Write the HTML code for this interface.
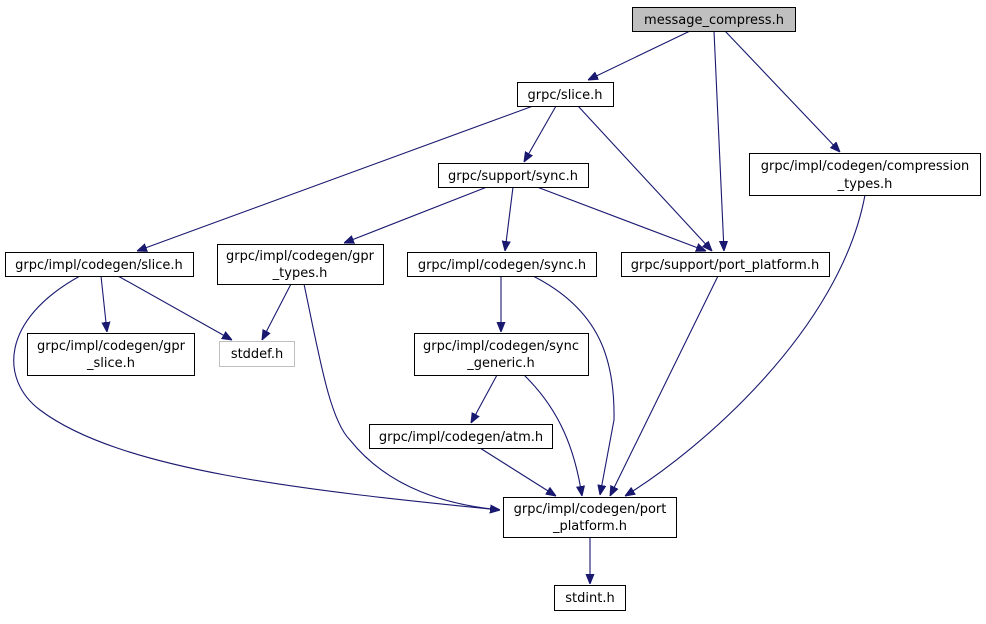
<!DOCTYPE html>
<html><head><meta charset="utf-8"><style>
html,body{margin:0;padding:0;background:#fff}
text{font-family:"DejaVu Sans","Liberation Sans",sans-serif;font-size:13px;fill:#000;text-anchor:middle}
.n{fill:#fff;stroke:#000;stroke-width:1}
.e{fill:none;stroke:#191970;stroke-width:1.1}
</style></head><body>
<svg width="986" height="619" viewBox="0 0 986 619" xmlns="http://www.w3.org/2000/svg">
<defs><marker id="a" viewBox="0 0 10 10" refX="10" refY="5" markerWidth="10" markerHeight="10" markerUnits="userSpaceOnUse" orient="auto"><path d="M0,1 L10,5 L0,9 z" fill="#191970" stroke="#191970"/></marker></defs>
<g class="e" marker-end="url(#a)">
<path d="M690,31 L588,80"/>
<path d="M714,31 L724,251"/>
<path d="M725,31 L840,152"/>
<path d="M533,106 L137,251"/>
<path d="M556,106 L524,162"/>
<path d="M578,106 L712,251"/>
<path d="M487,187 L344,243"/>
<path d="M513,187 L505,251"/>
<path d="M537,187 L706,251"/>
<path d="M80,276 C0,320 0,380 40,410 C120,470 300,490 500,510"/>
<path d="M101,276 L107,332"/>
<path d="M118,276 L232,340"/>
<path d="M291,284 L262,340"/>
<path d="M304,284 C320,360 330,420 350,440 C390,490 450,505 500,510"/>
<path d="M501,276 L501,332"/>
<path d="M533,276 C600,310 615,360 614,420 L600,495"/>
<path d="M497,375 L471,423"/>
<path d="M524,375 C560,410 575,450 582,496"/>
<path d="M480,448 L556,496"/>
<path d="M718,276 L610,496"/>
<path d="M865,195 C840,330 700,450 625,496"/>
<path d="M590,537 L590,584"/>
</g>
<rect x="632.5" y="7.5" width="163" height="24" fill="#bfbfbf" stroke="#000"/><text x="714" y="24">message_compress.h</text>
<rect class="n" x="517.5" y="82.5" width="96" height="24"/><text x="565" y="99">grpc/slice.h</text>
<rect class="n" x="749.5" y="153.5" width="231" height="42"/><text x="865" y="170">grpc/impl/codegen/compression</text><text x="865" y="188">_types.h</text>
<rect class="n" x="438.5" y="163.5" width="150" height="24"/><text x="513" y="180">grpc/support/sync.h</text>
<rect class="n" x="5.5" y="252.5" width="188" height="24"/><text x="99" y="269">grpc/impl/codegen/slice.h</text>
<rect class="n" x="217.5" y="244.5" width="166" height="40"/><text x="300" y="260">grpc/impl/codegen/gpr</text><text x="300" y="277">_types.h</text>
<rect class="n" x="407.5" y="252.5" width="189" height="24"/><text x="502" y="269">grpc/impl/codegen/sync.h</text>
<rect class="n" x="621.5" y="252.5" width="208" height="24"/><text x="725" y="269">grpc/support/port_platform.h</text>
<rect class="n" x="27.5" y="333.5" width="167" height="42"/><text x="111" y="350">grpc/impl/codegen/gpr</text><text x="111" y="367">_slice.h</text>
<rect x="219.5" y="341.5" width="75" height="25" fill="#fff" stroke="#bfbfbf"/><text x="257" y="358">stddef.h</text>
<rect class="n" x="414.5" y="333.5" width="174" height="42"/><text x="501" y="350">grpc/impl/codegen/sync</text><text x="501" y="367">_generic.h</text>
<rect class="n" x="369.5" y="424.5" width="183" height="24"/><text x="461" y="441">grpc/impl/codegen/atm.h</text>
<rect class="n" x="503.5" y="497.5" width="173" height="40"/><text x="590" y="513">grpc/impl/codegen/port</text><text x="590" y="530">_platform.h</text>
<rect class="n" x="554.5" y="585.5" width="71" height="25"/><text x="590" y="602">stdint.h</text>
</svg>
</body></html>
